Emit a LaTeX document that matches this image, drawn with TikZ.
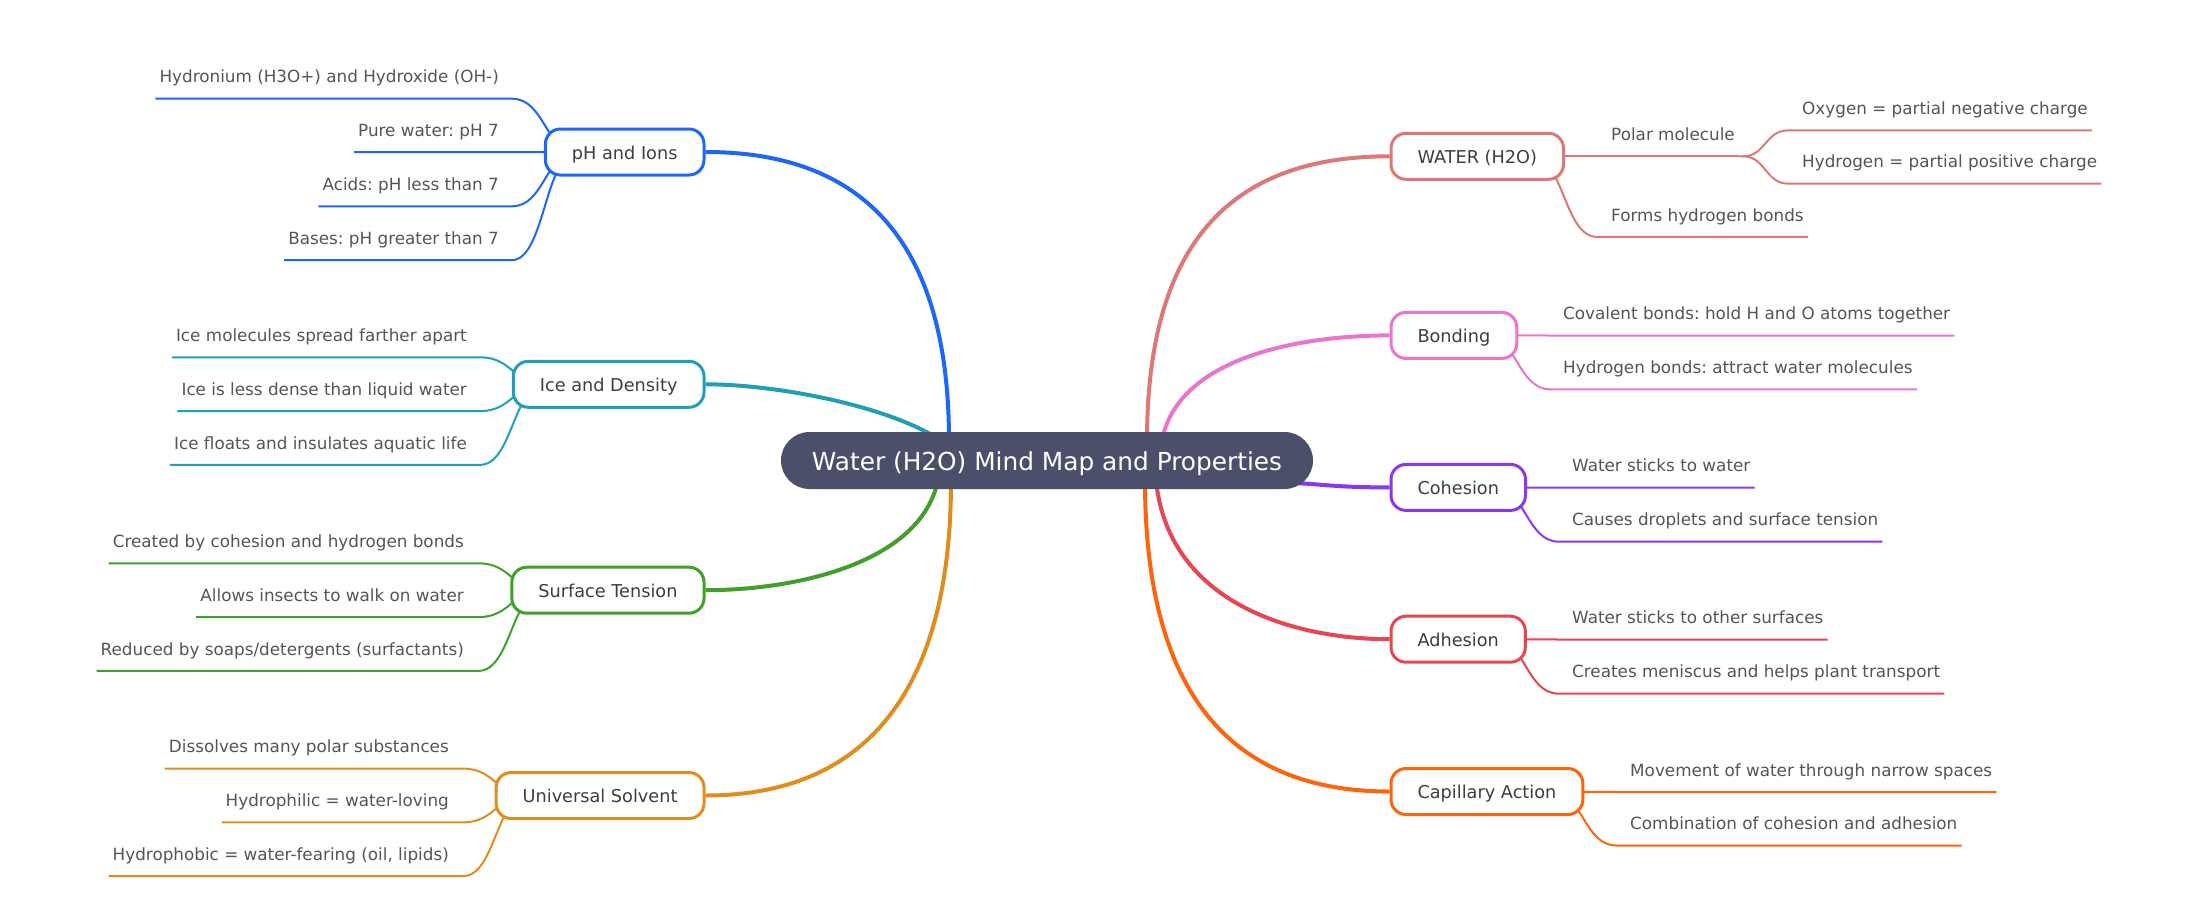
\documentclass[tikz,border=0pt]{standalone}
\usepackage{fontspec}
\setmainfont{DejaVu Sans}
\usetikzlibrary{calc}
\frenchspacing
\definecolor{cPH}{HTML}{1E66F5}
\definecolor{cIce}{HTML}{209FB5}
\definecolor{cST}{HTML}{40A02B}
\definecolor{cUS}{HTML}{DF8E1D}
\definecolor{cW}{HTML}{DD7878}
\definecolor{cB}{HTML}{EA76CB}
\definecolor{cCo}{HTML}{8839EF}
\definecolor{cAd}{HTML}{E64553}
\definecolor{cCa}{HTML}{FE640B}
\definecolor{cCenter}{HTML}{4C4F69}
\definecolor{cLeafTxt}{RGB}{85,85,85}
\definecolor{cBrTxt}{RGB}{62,62,62}
\pgfdeclarelayer{bg}
\pgfsetlayers{bg,main}
\tikzset{
  centerbox/.style={fill=cCenter, text=white, rounded corners=28.5pt, minimum width=532pt,
    minimum height=57pt, inner sep=0pt, text height=24pt, text depth=5pt,
    font=\fontsize{24.8}{30}\selectfont},
  brbox/.style={draw=#1, fill=white, line width=3pt, rounded corners=15pt, minimum height=46pt,
    inner xsep=26.5pt, inner ysep=0pt, text height=18pt, text depth=4pt, text=cBrTxt,
    font=\fontsize{17.7}{21}\selectfont},
  leaf/.style={inner xsep=4pt, inner ysep=0pt, text depth=15.7pt, text=cLeafTxt,
    font=\fontsize{16.8}{20}\selectfont},
  leafR/.style={leaf, anchor=south west},
  leafL/.style={leaf, anchor=south east},
  mainln/.style={draw=#1, line width=4pt},
  leafln/.style={draw=#1, line width=2pt},
}
\newcommand\leafRconn[3]{%
  \path (#2.east) ++(-34,0) coordinate (lsA) (#2.east) ++(-1,0) coordinate (lsB)
        (#2.east) ++(32,0) coordinate (lsC);
  \draw[leafln=#1] (lsA) .. controls (lsB) and (lsB |- #3.south) .. (lsC |- #3.south) -- (#3.south east);
}
\newcommand\leafLconn[3]{%
  \path (#2.west) ++(34,0) coordinate (lsA) (#2.west) ++(1,0) coordinate (lsB)
        (#2.west) ++(-32,0) coordinate (lsC);
  \draw[leafln=#1] (lsA) .. controls (lsB) and (lsB |- #3.south) .. (lsC |- #3.south) -- (#3.south west);
}
\begin{document}
\begin{tikzpicture}[x=1pt,y=-1pt]
\useasboundingbox (0,0) rectangle (2198,921);
\begin{pgfonlayer}{bg}
  \fill[white] (0,0) rectangle (2198,921);
\end{pgfonlayer}

% root
\node[centerbox] (root) at (1047,460.5) {Water (H2O) Mind Map and Properties};

% left branches
\node[brbox=cPH, anchor=east] (ph) at (705.5,152) {pH and Ions};
\node[brbox=cIce, anchor=east] (ice) at (705.5,384.3) {Ice and Density};
\node[brbox=cST, anchor=east] (st) at (705.5,590.2) {Surface Tension};
\node[brbox=cUS, anchor=east] (us) at (705.5,795.5) {Universal Solvent};

% right branches
\node[brbox=cW, anchor=west] (water) at (1389.5,156.3) {WATER (H2O)};
\node[brbox=cB, anchor=west] (bond) at (1389.5,335.4) {Bonding};
\node[brbox=cCo, anchor=west] (coh) at (1389.5,487.4) {Cohesion};
\node[brbox=cAd, anchor=west] (adh) at (1389.5,639.2) {Adhesion};
\node[brbox=cCa, anchor=west] (cap) at (1389.5,791.5) {Capillary Action};

% right leaves
\node[leafR] (w1) at (1607,156.3) {Polar molecule};
\node[leafR] (w1a) at (1798,130.4) {Oxygen = partial negative charge};
\node[leafR] (w1b) at (1798,183.6) {Hydrogen = partial positive charge};
\node[leafR] (w2) at (1607,236.9) {Forms hydrogen bonds};
\node[leafR] (b1) at (1559,335.5) {Covalent bonds: hold H and O atoms together};
\node[leafR] (b2) at (1559,389.3) {Hydrogen bonds: attract water molecules};
\node[leafR] (c1) at (1568,487.6) {Water sticks to water};
\node[leafR] (c2) at (1568,541.7) {Causes droplets and surface tension};
\node[leafR] (a1) at (1568,639.5) {Water sticks to other surfaces};
\node[leafR] (a2) at (1568,693.7) {Creates meniscus and helps plant transport};
\node[leafR] (k1) at (1626,792) {Movement of water through narrow spaces};
\node[leafR] (k2) at (1626,845.5) {Combination of cohesion and adhesion};

% left leaves
\node[leafL] (p1) at (503,98.7) {Hydronium (H3O+) and Hydroxide (OH-)};
\node[leafL] (p2) at (503,152.2) {Pure water: pH 7};
\node[leafL] (p3) at (503,206.3) {Acids: pH less than 7};
\node[leafL] (p4) at (503,260.1) {Bases: pH greater than 7};
\node[leafL] (i1) at (471,357.3) {Ice molecules spread farther apart};
\node[leafL] (i2) at (471,411.1) {Ice is less dense than liquid water};
\node[leafL] (i3) at (471,464.9) {Ice floats and insulates aquatic life};
\node[leafL] (s1) at (468,563.3) {Created by cohesion and hydrogen bonds};
\node[leafL] (s2) at (468,617.1) {Allows insects to walk on water};
\node[leafL] (s3) at (468,670.9) {Reduced by soaps/detergents (surfactants)};
\node[leafL] (u1) at (453,768.6) {Dissolves many polar substances};
\node[leafL] (u2) at (453,822.4) {Hydrophilic = water-loving};
\node[leafL] (u3) at (453,876.2) {Hydrophobic = water-fearing (oil, lipids)};

\begin{pgfonlayer}{bg}
  % main connectors
  \coordinate (sPH) at (949,441);
  \coordinate (sICE) at (968,478);
  \coordinate (sST) at (940,460);
  \coordinate (sUS) at (951,481);
  \coordinate (sW) at (1147,441);
  \coordinate (sB) at (1160,460);
  \coordinate (sCo) at (1250,482);
  \coordinate (sAd) at (1155,460);
  \coordinate (sCa) at (1145,481);
  \draw[mainln=cPH] (sPH) .. controls +(0,-208) and +(150,0) .. (ph.east);
  \draw[mainln=cIce] (sICE) .. controls +(0,-55) and +(95,0) .. (ice.east);
  \draw[mainln=cST] (sST) .. controls +(0,100) and +(95,0) .. (st.east);
  \draw[mainln=cUS] (sUS) .. controls +(0,223) and +(150,0) .. (us.east);
  \draw[mainln=cW] (sW) .. controls +(0,-208) and +(-150,0) .. (water.west);
  \draw[mainln=cB] (sB) .. controls +(0,-100) and +(-95,0) .. (bond.west);
  \draw[mainln=cCo] (sCo) .. controls +(70,0) and +(-70,0) .. (coh.west);
  \draw[mainln=cAd] (sAd) .. controls +(0,140) and +(-100,0) .. (adh.west);
  \draw[mainln=cCa] (sCa) .. controls +(0,223) and +(-150,0) .. (cap.west);

  % leaf connectors, right
  \leafRconn{cW}{water}{w1}
  \leafRconn{cW}{water}{w2}
  \path (w1.south east) ++(4,0) coordinate (wpa) (w1.south east) ++(49,0) coordinate (wpc);
  \draw[leafln=cW] (w1.south east) -- (wpa) .. controls +(22.5,0) and +(-22.5,0) .. (wpc |- w1a.south) -- (w1a.south east);
  \draw[leafln=cW] (wpa) .. controls +(22.5,0) and +(-22.5,0) .. (wpc |- w1b.south) -- (w1b.south east);
  \leafRconn{cB}{bond}{b1}
  \leafRconn{cB}{bond}{b2}
  \leafRconn{cCo}{coh}{c1}
  \leafRconn{cCo}{coh}{c2}
  \leafRconn{cAd}{adh}{a1}
  \leafRconn{cAd}{adh}{a2}
  \leafRconn{cCa}{cap}{k1}
  \leafRconn{cCa}{cap}{k2}

  % leaf connectors, left
  \leafLconn{cPH}{ph}{p1}
  \leafLconn{cPH}{ph}{p2}
  \leafLconn{cPH}{ph}{p3}
  \leafLconn{cPH}{ph}{p4}
  \leafLconn{cIce}{ice}{i1}
  \leafLconn{cIce}{ice}{i2}
  \leafLconn{cIce}{ice}{i3}
  \leafLconn{cST}{st}{s1}
  \leafLconn{cST}{st}{s2}
  \leafLconn{cST}{st}{s3}
  \leafLconn{cUS}{us}{u1}
  \leafLconn{cUS}{us}{u2}
  \leafLconn{cUS}{us}{u3}
\end{pgfonlayer}
\end{tikzpicture}
\end{document}
